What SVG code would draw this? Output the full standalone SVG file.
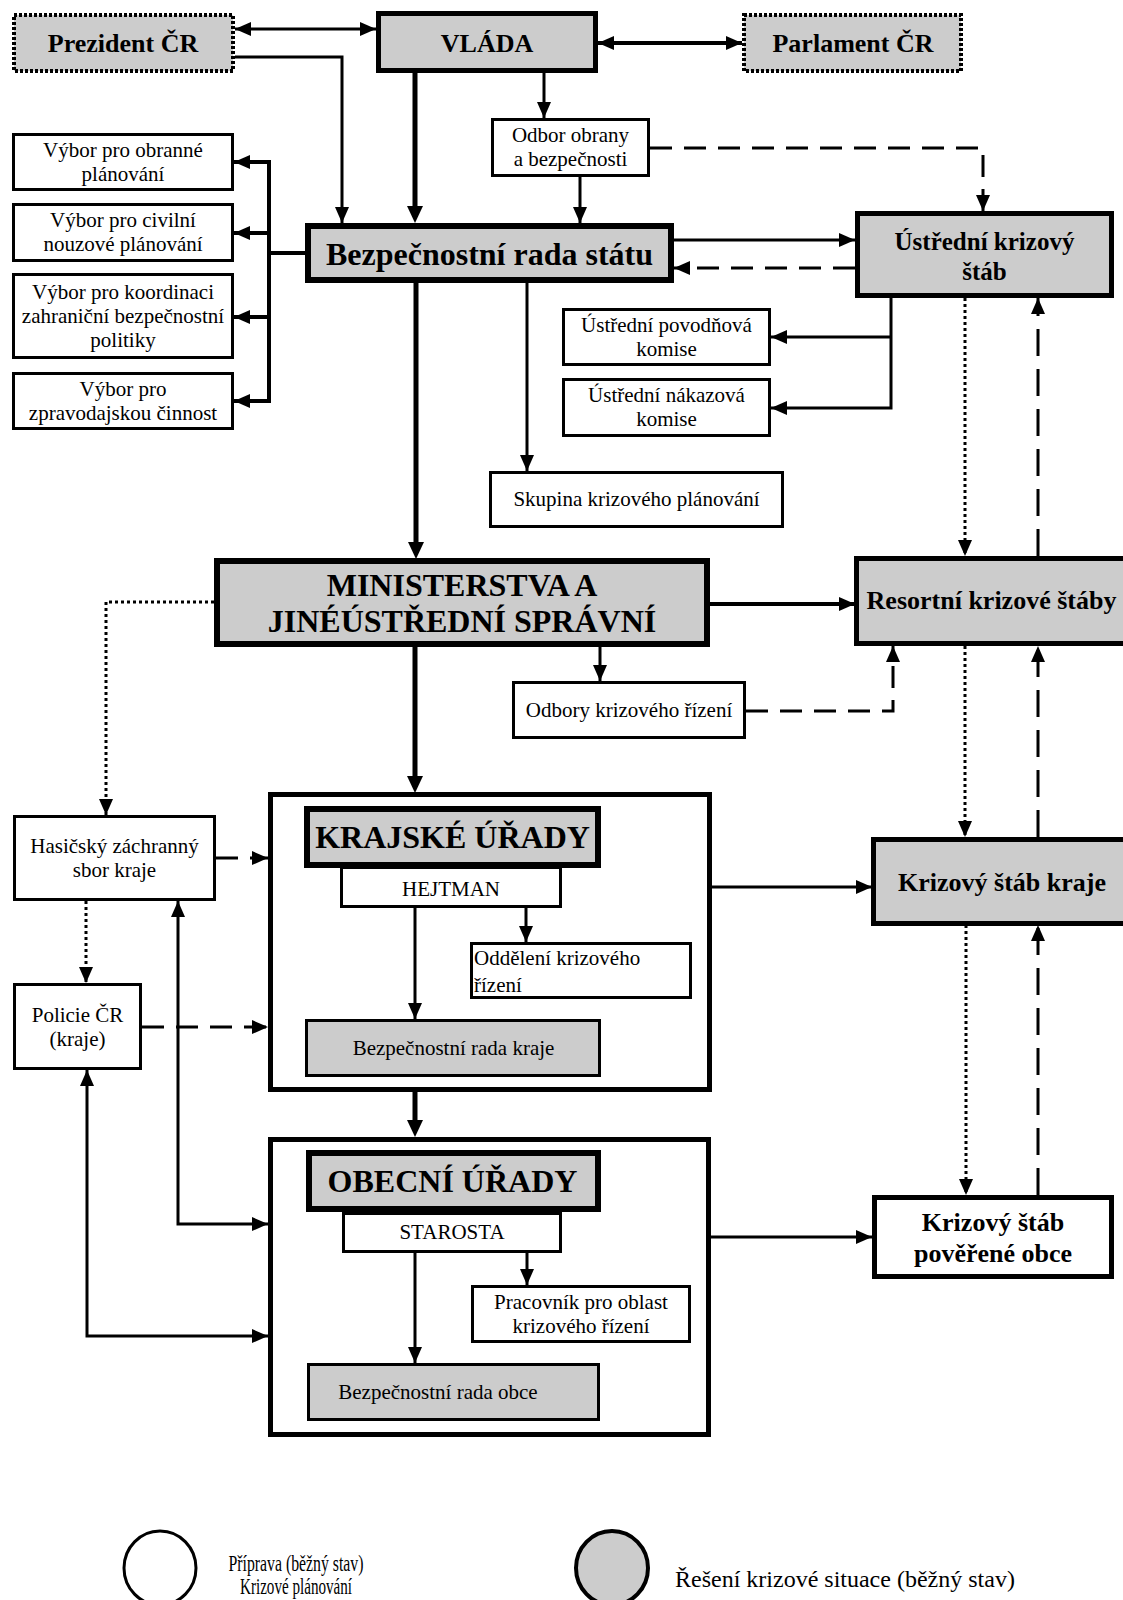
<svg xmlns="http://www.w3.org/2000/svg" width="1123" height="1600" viewBox="0 0 1123 1600">
<defs>
<marker id="ah" viewBox="0 0 16 14" refX="16" refY="7" markerWidth="16" markerHeight="14" markerUnits="userSpaceOnUse" orient="auto-start-reverse"><path d="M0,0 L16,7 L0,14 z" fill="#000"/></marker>
<marker id="ahk" viewBox="0 0 17 16" refX="11" refY="8" markerWidth="17" markerHeight="16" markerUnits="userSpaceOnUse" orient="auto-start-reverse"><path d="M0,0 L17,8 L0,16 z" fill="#000"/></marker>
</defs>
<style>
.n{stroke:#000}
.g{fill:#cccccc}
.w{fill:#ffffff}
.k{stroke-width:6}
.m{stroke-width:5}
.t{stroke-width:3}
.dot{stroke-width:4;stroke-dasharray:3 2}
text{font-family:"Liberation Serif","Times New Roman",serif;fill:#000;text-anchor:middle;font-size:21px}
.b{font-weight:bold}
.s26{font-size:26px}
.s25{font-size:25px}
.s32{font-size:32px}
.s24{font-size:24px}
.s23{font-size:23px}
.c{fill:none;stroke:#000;stroke-width:3;marker-end:url(#ah)}
.c4{stroke-width:4}
.ck{fill:none;stroke:#000;stroke-width:5;marker-end:url(#ahk)}
.both{marker-start:url(#ah)}
.dash{stroke-dasharray:22 12}
.dsh2{stroke-dasharray:27 13}
.dt{stroke-dasharray:3 3}
.ln{fill:none;stroke:#000;stroke-width:4}
</style>
<rect width="1123" height="1600" fill="#ffffff"/>

<g id="prezident"><rect class="n g dot" x="14" y="15" width="219" height="56"/><text class="b s26" x="123" y="52">Prezident ČR</text></g>
<g id="vlada"><rect class="n g m" x="378.5" y="13.5" width="217" height="57"/><text class="b s26" x="487" y="52">VLÁDA</text></g>
<g id="parlament"><rect class="n g dot" x="744" y="15" width="217" height="56"/><text class="b s26" x="853" y="52">Parlament ČR</text></g>

<g id="odbor-obrany"><rect class="n w t" x="492.5" y="119.5" width="156" height="56"/><text x="570.5" y="142">Odbor obrany</text><text x="570.5" y="166">a bezpečnosti</text></g>

<g id="brs"><rect class="n g k" x="308" y="226" width="363" height="54"/><text class="b s32" x="489.5" y="265">Bezpečnostní rada státu</text></g>
<g id="uks"><rect class="n g m" x="857.5" y="213.5" width="254" height="82"/><text class="b s25" x="984.5" y="250">Ústřední krizový</text><text class="b s25" x="984.5" y="280">štáb</text></g>

<g id="vybor1"><rect class="n w t" x="13.5" y="134.5" width="219" height="55"/><text x="123" y="157">Výbor pro obranné</text><text x="123" y="181">plánování</text></g>
<g id="vybor2"><rect class="n w t" x="13.5" y="204.5" width="219" height="56"/><text x="123" y="227">Výbor pro civilní</text><text x="123" y="251">nouzové plánování</text></g>
<g id="vybor3"><rect class="n w t" x="13.5" y="274.5" width="219" height="83"/><text x="123" y="299">Výbor pro koordinaci</text><text x="123" y="323">zahraniční bezpečnostní</text><text x="123" y="347">politiky</text></g>
<g id="vybor4"><rect class="n w t" x="13.5" y="373.5" width="219" height="55"/><text x="123" y="396">Výbor pro</text><text x="123" y="420">zpravodajskou činnost</text></g>

<g id="povodnova"><rect class="n w t" x="563.5" y="309.5" width="206" height="55"/><text x="666.5" y="332">Ústřední povodňová</text><text x="666.5" y="356">komise</text></g>
<g id="nakazova"><rect class="n w t" x="563.5" y="379.5" width="206" height="56"/><text x="666.5" y="402">Ústřední nákazová</text><text x="666.5" y="426">komise</text></g>
<g id="skupina"><rect class="n w t" x="490.5" y="472.5" width="292" height="54"/><text x="636.5" y="506">Skupina krizového plánování</text></g>

<g id="ministerstva"><rect class="n g k" x="217" y="561" width="490" height="83"/><text class="b s32" x="462" y="596">MINISTERSTVA A</text><text class="b s32" x="462" y="632">JINÉÚSTŘEDNÍ SPRÁVNÍ</text></g>
<g id="resortni"><rect class="n g m" x="856.5" y="558.5" width="275" height="85"/><text class="b s26" x="991.5" y="609">Resortní krizové štáby</text></g>
<g id="odbory-kr"><rect class="n w t" x="513.5" y="682.5" width="231" height="55"/><text x="629" y="717">Odbory krizového řízení</text></g>

<g id="hasicsky"><rect class="n w t" x="14.5" y="816.5" width="200" height="83"/><text x="114.5" y="853">Hasičský záchranný</text><text x="114.5" y="877">sbor kraje</text></g>
<g id="policie"><rect class="n w t" x="14.5" y="984.5" width="126" height="84"/><text x="77.5" y="1022">Policie ČR</text><text x="77.5" y="1046">(kraje)</text></g>

<g id="krajske"><rect class="n w m" x="270.5" y="794.5" width="439" height="295"/></g>
<g id="krajske-urady"><rect class="n g k" x="307" y="809" width="291" height="56"/><text class="b s32" x="452.5" y="848">KRAJSKÉ ÚŘADY</text></g>
<g id="hejtman"><rect class="n w t" x="341.5" y="867.5" width="219" height="39"/><text x="451" y="896">HEJTMAN</text></g>
<g id="oddeleni"><rect class="n w t" x="471.5" y="943.5" width="219" height="54"/><text x="474" y="965" style="text-anchor:start">Oddělení krizového</text><text x="474" y="992" style="text-anchor:start">řízení</text></g>
<g id="brk"><rect class="n g t" x="306.5" y="1020.5" width="293" height="55"/><text x="453.5" y="1055">Bezpečnostní rada kraje</text></g>

<g id="obecni"><rect class="n w m" x="270.5" y="1139.5" width="438" height="295"/></g>
<g id="obecni-urady"><rect class="n g k" x="309" y="1153" width="289" height="56"/><text class="b s32" x="452.5" y="1192">OBECNÍ ÚŘADY</text></g>
<g id="starosta"><rect class="n w t" x="343.5" y="1213.5" width="217" height="38"/><text x="452" y="1239">STAROSTA</text></g>
<g id="pracovnik"><rect class="n w t" x="472.5" y="1286.5" width="217" height="55"/><text x="581" y="1309">Pracovník pro oblast</text><text x="581" y="1333">krizového řízení</text></g>
<g id="bro"><rect class="n g t" x="308.5" y="1364.5" width="290" height="55"/><text x="438" y="1399">Bezpečnostní rada obce</text></g>

<g id="ks-kraje"><rect class="n g m" x="873.5" y="839.5" width="260" height="84"/><text class="b s26" x="1002" y="891">Krizový štáb kraje</text></g>
<g id="ks-obce"><rect class="n w m" x="874.5" y="1197.5" width="237" height="79"/><text class="b s26" x="993" y="1231">Krizový štáb</text><text class="b s26" x="993" y="1262">pověřené obce</text></g>

<g id="legend">
<ellipse cx="160" cy="1568" rx="36" ry="37" fill="#ffffff" stroke="#000" stroke-width="3"/>
<text x="296" y="1571" class="s23" textLength="135" lengthAdjust="spacingAndGlyphs">Příprava (běžný stav)</text>
<text x="296" y="1594" class="s23" textLength="112" lengthAdjust="spacingAndGlyphs">Krizové plánování</text>
<ellipse cx="612" cy="1568" rx="36" ry="37" fill="#cccccc" stroke="#000" stroke-width="4"/>
<text x="675" y="1587" class="s24" style="text-anchor:start">Řešení krizové situace (běžný stav)</text>
</g>

<g id="connectors">
<path class="c both" d="M235,29 H376"/>
<path class="c c4 both" d="M598,43 H742"/>
<path class="c" d="M235,57 H342 V223"/>
<path class="ck" d="M415,73 V217"/>
<path class="c" d="M544,73 V118"/>
<path class="c" d="M580,177 V223"/>
<path class="c dash" d="M650,148 H983 V211"/>
<path class="c" d="M674,240 H855"/>
<path class="c dash" d="M855,268 H674"/>
<path class="ln" d="M305,253 H269 M269,160 V403"/>
<path class="c c4" d="M269,162 H234"/>
<path class="c c4" d="M269,233 H234"/>
<path class="c c4" d="M269,317 H234"/>
<path class="c c4" d="M269,401 H234"/>
<path class="c" d="M891,298 V408 H771"/>
<path class="c" d="M891,337 H771"/>
<path class="c" d="M527,283 V471"/>
<path class="ck" d="M416,283 V553"/>
<path class="c dt" d="M965,298 V556"/>
<path class="c dsh2" d="M1038,556 V298"/>
<path class="c c4" d="M710,604 H855"/>
<path class="c" d="M600,647 V681"/>
<path class="c dash" d="M746,711 H893 V646"/>
<path class="c dt" d="M214,602 H106 V815"/>
<path class="ck" d="M415,647 V787"/>
<path class="c dt" d="M965,646 V837"/>
<path class="c dsh2" d="M1038,837 V646"/>
<path class="c" d="M711,887 H872"/>
<path class="c dt" d="M966,925 V1195"/>
<path class="c dsh2" d="M1038,1195 V925"/>
<path class="c" d="M711,1237 H872"/>
<path class="c dt" d="M86,901 V983"/>
<path class="c dash" d="M216,858 H268"/>
<path class="c dash" d="M142,1027 H268"/>
<path class="c both" d="M178,901 V1224 H268"/>
<path class="c both" d="M87,1070 V1336 H268"/>
<path class="c" d="M415,908 V1019"/>
<path class="c" d="M526,908 V942"/>
<path class="ck" d="M415,1092 V1131"/>
<path class="c" d="M415,1253 V1363"/>
<path class="c" d="M527,1253 V1285"/>
</g>
</svg>
